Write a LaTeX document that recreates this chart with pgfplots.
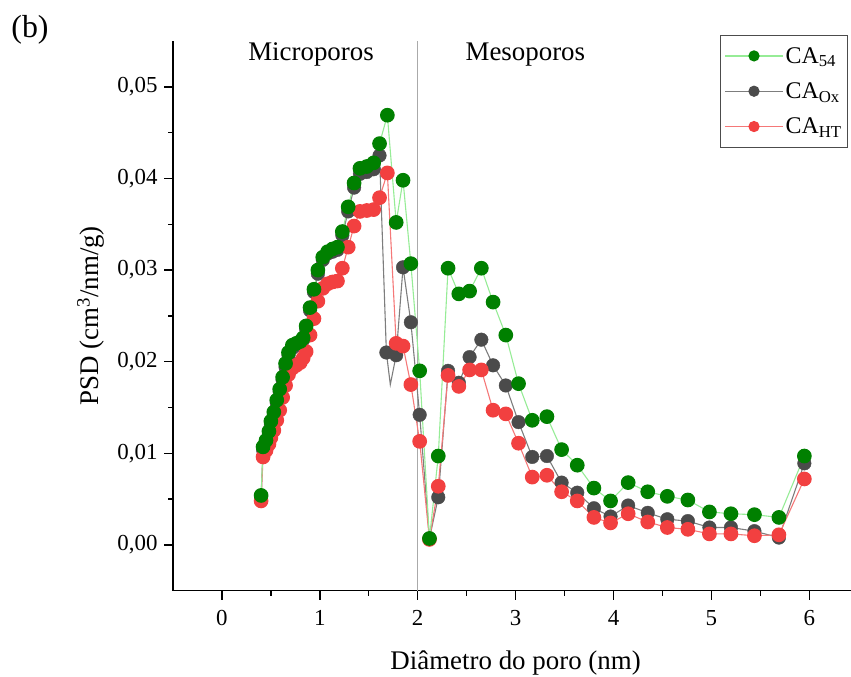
\documentclass[border=0pt]{standalone}
\usepackage{fontspec}
\setmainfont{Liberation Serif}
\usepackage{pgfplots}
\pgfplotsset{compat=1.18}
\usepackage{pgfplotstable}

\definecolor{ptgreen}{RGB}{0,128,0}
\definecolor{lngreen}{RGB}{150,236,150}
\definecolor{ptgray}{RGB}{75,75,75}
\definecolor{lngray}{RGB}{125,125,125}
\definecolor{ptred}{RGB}{242,64,64}
\definecolor{lnred}{RGB}{245,120,120}
\definecolor{divider}{RGB}{170,170,170}

% Pore size distributions (diameter in nm, PSD in cm3/nm/g)
\pgfplotstableread{
d      psd
0.40   0.0054
0.42   0.0107
0.45   0.0114
0.48   0.0124
0.50   0.0135
0.53   0.0145
0.56   0.0158
0.59   0.0170
0.62   0.0183
0.65   0.0198
0.68   0.0210
0.72   0.0218
0.76   0.0220
0.80   0.0222
0.83   0.0226
0.86   0.0239
0.90   0.0259
0.94   0.0279
0.98   0.0300
1.03   0.0314
1.08   0.0320
1.13   0.0323
1.18   0.0325
1.23   0.0342
1.29   0.0369
1.35   0.0395
1.41   0.0411
1.48   0.0413
1.55   0.0417
1.61   0.0438
1.69   0.0469
1.78   0.0352
1.85   0.0398
1.93   0.0307
2.02   0.0190
2.12   0.0007
2.21   0.0097
2.31   0.0302
2.42   0.0274
2.53   0.0277
2.65   0.0302
2.77   0.0265
2.90   0.0229
3.03   0.0176
3.17   0.0136
3.32   0.0140
3.47   0.0104
3.63   0.0087
3.80   0.0062
3.97   0.0048
4.15   0.0068
4.35   0.0058
4.55   0.0053
4.76   0.0049
4.98   0.0036
5.20   0.0034
5.44   0.0033
5.69   0.0030
5.95   0.0097
}\tabCAfiftyfour

\pgfplotstableread{
d      psd
0.40   0.0053
0.42   0.0104
0.45   0.0111
0.48   0.0121
0.50   0.0131
0.53   0.0142
0.56   0.0155
0.59   0.0167
0.62   0.0180
0.65   0.0194
0.68   0.0207
0.72   0.0215
0.76   0.0218
0.80   0.0220
0.83   0.0224
0.86   0.0236
0.90   0.0256
0.94   0.0276
0.98   0.0296
1.03   0.0311
1.08   0.0318
1.13   0.0320
1.18   0.0322
1.23   0.0338
1.29   0.0364
1.35   0.0390
1.41   0.0405
1.48   0.0407
1.55   0.0410
1.61   0.0425
1.68   0.0210
1.72   0.0175
1.78   0.0207
1.85   0.0303
1.93   0.0243
2.02   0.0142
2.12   0.0007
2.21   0.0052
2.31   0.0190
2.42   0.0177
2.53   0.0205
2.65   0.0224
2.77   0.0196
2.90   0.0174
3.03   0.0134
3.17   0.0096
3.32   0.0097
3.47   0.0068
3.63   0.0057
3.80   0.0040
3.97   0.0031
4.15   0.0043
4.35   0.0035
4.55   0.0028
4.76   0.0026
4.98   0.0019
5.20   0.0019
5.44   0.0015
5.69   0.0008
5.95   0.0089
}\tabCAox

\pgfplotstableread{
d      psd
0.40   0.0048
0.42   0.0096
0.45   0.0103
0.48   0.0110
0.50   0.0117
0.53   0.0125
0.56   0.0136
0.59   0.0147
0.62   0.0161
0.65   0.0174
0.68   0.0186
0.72   0.0193
0.76   0.0196
0.80   0.0199
0.83   0.0204
0.86   0.0211
0.90   0.0229
0.94   0.0247
0.98   0.0266
1.03   0.0280
1.08   0.0285
1.13   0.0287
1.18   0.0288
1.23   0.0302
1.29   0.0325
1.35   0.0348
1.41   0.0364
1.48   0.0365
1.55   0.0366
1.61   0.0379
1.69   0.0406
1.78   0.0220
1.85   0.0217
1.93   0.0175
2.02   0.0113
2.12   0.0006
2.21   0.0064
2.31   0.0185
2.42   0.0173
2.53   0.0191
2.65   0.0191
2.77   0.0147
2.90   0.0143
3.03   0.0111
3.17   0.0074
3.32   0.0076
3.47   0.0058
3.63   0.0048
3.80   0.0030
3.97   0.0024
4.15   0.0034
4.35   0.0025
4.55   0.0019
4.76   0.0017
4.98   0.0012
5.20   0.0012
5.44   0.0010
5.69   0.0011
5.95   0.0072
}\tabCAht

\newcommand{\tickfont}{\fontsize{23}{27}\selectfont}
\newcommand{\legfont}{\fontsize{24}{28}\selectfont}
\newcommand{\labelfont}{\fontsize{27}{32}\selectfont}

\begin{document}
\begin{tikzpicture}
\begin{axis}[
  at={(173bp,-590.7bp)}, anchor=south west,
  scale only axis, width=685.2bp, height=549.7bp,
  xmin=-0.5, xmax=6.5, ymin=-0.005, ymax=0.055,
  axis lines=left,
  axis line style={-, line width=1.4bp, black},
  xtick={0,1,2,3,4,5,6},
  ytick={0,0.01,0.02,0.03,0.04,0.05},
  minor x tick num=1, minor y tick num=1,
  tick align=outside,
  major tick length=9bp, minor tick length=5bp,
  every tick/.style={line width=1.4bp, black},
  scaled y ticks=false,
  /pgf/number format/assume math mode=true,
  yticklabel style={/pgf/number format/fixed,
    /pgf/number format/fixed zerofill,
    /pgf/number format/precision=2,
    /pgf/number format/use comma},
  ticklabel style={font=\tickfont},
  xticklabel style={yshift=-7bp},
  yticklabel style={xshift=-3bp},
  xlabel={Diâmetro do poro (nm)},
  ylabel={PSD (cm\textsuperscript{3}/nm/g)},
  label style={font=\labelfont},
  xlabel style={yshift=-18bp},
  ylabel style={yshift=6bp},
  clip=false,
  legend cell align=left,
  legend style={at={(0.985,1.011)}, anchor=north east,
    draw=black!70, line width=0.6bp, font=\legfont,
    row sep=14bp, inner xsep=4bp, inner ysep=10bp},
  legend image code/.code={\draw[#1, mark repeat=2, mark phase=2]
    plot coordinates {(0bp,0bp) (29bp,0bp) (58bp,0bp)};},
]
\addlegendimage{lngreen, line width=1.2bp, mark=*, mark size=5bp,
  mark options={fill=ptgreen, draw=ptgreen}}
\addlegendentry{CA\textsubscript{54}}
\addlegendimage{lngray, line width=1.2bp, mark=*, mark size=5bp,
  mark options={fill=ptgray, draw=ptgray}}
\addlegendentry{CA\textsubscript{Ox}}
\addlegendimage{lnred, line width=1.2bp, mark=*, mark size=5bp,
  mark options={fill=ptred, draw=ptred}}
\addlegendentry{CA\textsubscript{HT}}

% boundary between micro- and mesopores
\addplot[divider, line width=1.2bp, forget plot] coordinates {(2,-0.005) (2,0.055)};

% CA_Ox: connecting line, then markers
\addplot[lngray, line width=1.1bp, forget plot] table[x=d, y=psd] {\tabCAox};
\addplot[only marks, mark=*, mark size=6.8bp, mark options={fill=ptgray, draw=ptgray},
  skip coords between index={31}{32}, forget plot] table[x=d, y=psd] {\tabCAox};

% CA_HT
\addplot[lnred, line width=1.1bp, mark=*, mark size=6.8bp,
  mark options={fill=ptred, draw=ptred}, forget plot] table[x=d, y=psd] {\tabCAht};

% CA_54
\addplot[lngreen, line width=1.1bp, mark=*, mark size=6.8bp,
  mark options={fill=ptgreen, draw=ptgreen}, forget plot] table[x=d, y=psd] {\tabCAfiftyfour};

\node[font=\labelfont] at (axis cs:0.91,0.0535) {Microporos};
\node[font=\labelfont] at (axis cs:3.10,0.0535) {Mesoporos};
\end{axis}
\node[font=\fontsize{32}{36}\selectfont] at (30bp,-30bp) {(b)};
\pgfresetboundingbox
\path[use as bounding box] (0bp,0bp) rectangle (851bp,-677bp);
\end{tikzpicture}
\end{document}
